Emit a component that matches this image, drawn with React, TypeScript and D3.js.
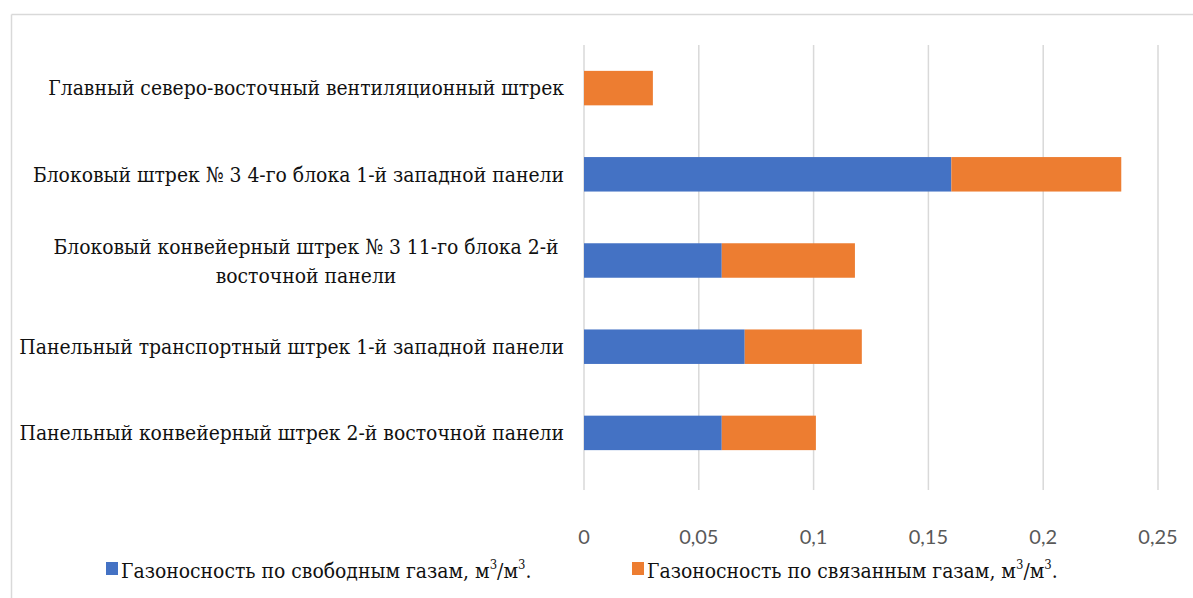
import React from "react";
import * as d3 from "d3";

const categories = [
  ["Главный северо-восточный вентиляционный штрек"],
  ["Блоковый штрек № 3 4-го блока 1-й западной панели"],
  ["Блоковый конвейерный штрек № 3 11-го блока 2-й", "восточной панели"],
  ["Панельный транспортный штрек 1-й западной панели"],
  ["Панельный конвейерный штрек 2-й восточной панели"],
];
const freeGas = [0, 0.16, 0.06, 0.07, 0.06];
const boundGas = [0.03, 0.074, 0.058, 0.051, 0.041];
const ticks = [0, 0.05, 0.1, 0.15, 0.2, 0.25];
const tickLabels = ["0", "0,05", "0,1", "0,15", "0,2", "0,25"];
const seriesNames = ["Газоносность по свободным газам, м", "Газоносность по связанным газам, м"];
const colors = ["#4472C4", "#ED7D31"];

export default function App() {
  const W = 1193, H = 598;
  const x = d3.scaleLinear().domain([0, 0.25]).range([584, 1158]);
  const y = d3.scaleBand<number>().domain(d3.range(categories.length)).range([45, 476]).paddingInner(0.6).paddingOuter(0.3);
  const serifStyle = { fontFamily: "'DejaVu Serif', serif" };
  const sx = 0.9;
  const fs = 18.8 / sx;
  return (
    <div style={{ position: "fixed", left: 0, top: 0 }}>
      <svg width={W} height={H} style={{ display: "block", background: "#fff" }}>
        <line x1={11.5} y1={14.5} x2={W} y2={14.5} stroke="#d9d9d9" strokeWidth={1.5} />
        <line x1={11.5} y1={14.5} x2={11.5} y2={H} stroke="#d9d9d9" strokeWidth={1.5} />
        {ticks.map((t, i) => (
          <g key={i}>
            <line x1={x(t)} x2={x(t)} y1={45} y2={490} stroke="#d9d9d9" strokeWidth={1.5} />
            <text x={x(t)} y={537} dy="0.35em" textAnchor="middle" style={{ fontFamily: "Lato, 'Open Sans', sans-serif" }} fontSize={20} fill="#595959">
              {tickLabels[i]}
            </text>
          </g>
        ))}
        {categories.map((c, i) => {
          const yc = (y(i) as number) + y.bandwidth() / 2;
          return (
            <g key={i}>
              {freeGas[i] > 0 && (
                <rect x={x(0)} y={y(i)} width={x(freeGas[i]) - x(0)} height={y.bandwidth()} fill={colors[0]} />
              )}
              <rect x={x(freeGas[i])} y={y(i)} width={x(freeGas[i] + boundGas[i]) - x(freeGas[i])} height={y.bandwidth()} fill={colors[1]} />
              {c.length === 1 ? (
                <g transform={`translate(564,${yc}) scale(${sx},1)`}>
                  <text x={0} y={0} dy="0.35em" textAnchor="end" style={serifStyle} fontSize={fs} fill="#111">
                    {c[0]}
                  </text>
                </g>
              ) : (
                <g transform={`translate(306,${yc}) scale(${sx},1)`}>
                  <text style={serifStyle} fontSize={fs} fill="#111" textAnchor="middle">
                    {c.map((line, k) => (
                      <tspan key={k} x={0} y={-14 + k * 29} dy="0.35em">{line}</tspan>
                    ))}
                  </text>
                </g>
              )}
            </g>
          );
        })}
        {seriesNames.map((s, i) => {
          const lx = i === 0 ? 106 : 632;
          return (
            <g key={i}>
              <rect x={lx} y={562} width={12} height={13} fill={colors[i]} />
              <g transform={`translate(${lx + 15},578) scale(${sx},1)`}>
                <text x={0} y={0} style={serifStyle} fontSize={fs} fill="#111">
                  {s}
                  <tspan fontSize={13} dy={-9}>3</tspan>
                  <tspan fontSize={fs} dy={9}>/м</tspan>
                  <tspan fontSize={13} dy={-9}>3</tspan>
                  <tspan fontSize={fs} dy={9}>.</tspan>
                </text>
              </g>
            </g>
          );
        })}
      </svg>
    </div>
  );
}
